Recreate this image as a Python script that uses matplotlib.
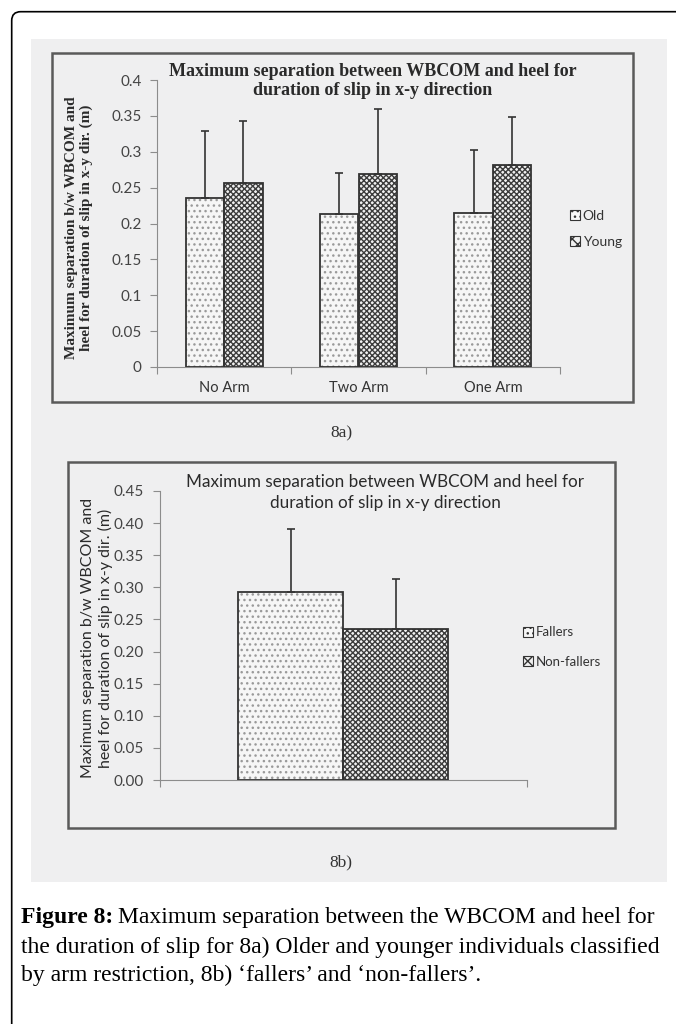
import matplotlib
matplotlib.use("Agg")
import matplotlib.pyplot as plt
from matplotlib.patches import Rectangle, FancyBboxPatch
import numpy as np

# ---- data ----
arm_groups = ["No Arm", "Two Arm", "One Arm"]
old_mean = [0.235, 0.213, 0.214]
old_sd = [0.094, 0.058, 0.088]
young_mean = [0.257, 0.269, 0.282]
young_sd = [0.086, 0.090, 0.066]

fall_labels = ["Fallers", "Non-fallers"]
fall_mean = [0.292, 0.235]
fall_sd = [0.099, 0.078]

ticks_a = [0, 0.05, 0.1, 0.15, 0.2, 0.25, 0.3, 0.35, 0.4]
ticks_b = [0, 0.05, 0.10, 0.15, 0.20, 0.25, 0.30, 0.35, 0.40, 0.45]

title = "Maximum separation between WBCOM and heel for\nduration of slip in x-y direction"
ylab = "Maximum separation b/w WBCOM and\nheel for duration of slip in x-y dir. (m)"

W, H = 676, 1024
plt.rcParams['hatch.linewidth'] = 1.0

fig = plt.figure(figsize=(W / 100, H / 100), dpi=100)
fig.patch.set_facecolor("white")


def fx(x):
    return x / W


def fy(y):
    return 1 - y / H


def rect(l, t, r, b):
    return [l / W, 1 - b / H, (r - l) / W, (b - t) / H]


# outer rounded frame and scanned grey area (kept behind the axes)
frame = FancyBboxPatch((0.117, -1.0), 8.0, 10.123 + 1.0, boxstyle="round,pad=0,rounding_size=0.09",
                       transform=fig.dpi_scale_trans, fill=False, ec="black", lw=1.2, zorder=-10)
fig.patches.append(frame)
fig.patches.append(Rectangle((fx(31), fy(882)), (667 - 31) / W, (882 - 39) / H,
                             transform=fig.transFigure, fc="#efeff0", ec="none", zorder=-9))
# chart boxes
for l, t, r, b in [(52, 53, 633, 402), (68, 462, 615, 828)]:
    fig.patches.append(Rectangle((fx(l), fy(b)), (r - l) / W, (b - t) / H,
                                 transform=fig.transFigure, fill=False, ec="#5a5a5a", lw=1.8,
                                 zorder=-8))

DOT = dict(fc="#f6f6f6", hatch="...", hatch_ec="#9a9a9a")
CROSS = dict(fc="#f0f0f0", hatch="xxxxxx", hatch_ec="#3c3c3c")


def hbar(ax, x, h, w, style):
    ax.bar(x, h, w, color=style["fc"], hatch=style["hatch"], edgecolor=style["hatch_ec"], lw=0, zorder=2)
    ax.bar(x, h, w, fill=False, edgecolor="#333333", lw=1.3, zorder=3)


def style_axes(ax, nb):
    for s in ["top", "right"]:
        ax.spines[s].set_visible(False)
    for s in ["left", "bottom"]:
        ax.spines[s].set_color("#8c8c8c")
        ax.spines[s].set_linewidth(0.8)
    ax.set_facecolor("none")
    ax.tick_params(axis="y", direction="out", length=5, color="#8c8c8c", labelcolor="#444444", pad=6)
    ax.set_xticks(np.arange(-0.5, nb, 1.0))
    ax.set_xticklabels([])
    ax.tick_params(axis="x", direction="out", length=5, color="#8c8c8c")


# ---------------- 8a ----------------
axa = fig.add_axes(rect(157, 80, 560, 367))
x = np.arange(len(arm_groups))
bw = 0.287
hbar(axa, x - bw / 2, old_mean, bw, DOT)
hbar(axa, x + bw / 2, young_mean, bw, CROSS)
axa.errorbar(x - bw / 2, old_mean, yerr=[np.zeros(3), old_sd], fmt="none", ecolor="#333333",
             elinewidth=1.2, capsize=3, capthick=1.2, zorder=4)
axa.errorbar(x + bw / 2, young_mean, yerr=[np.zeros(3), young_sd], fmt="none", ecolor="#333333",
             elinewidth=1.2, capsize=3, capthick=1.2, zorder=4)
axa.set_xlim(-0.5, 2.5)
axa.set_ylim(0, 0.4)
axa.set_yticks(ticks_a)
axa.set_yticklabels([f"{t:g}" for t in ticks_a], family="Lato", fontsize=11)
style_axes(axa, 3)
for i, g in enumerate(arm_groups):
    axa.text(i, -0.029, g, ha="center", va="center", family="Lato", fontsize=10.5, color="#333333",
             transform=axa.transData, clip_on=False)

fig.text(fx(373), fy(81), title, ha="center", va="center", family="Liberation Serif",
         fontweight="bold", fontsize=13, color="#2a2a2a", linespacing=1.15)
fig.text(fx(79), fy(228), ylab, ha="center", va="center", rotation=90, family="Liberation Serif",
         fontweight="bold", fontsize=11, color="#2a2a2a", linespacing=1.15, multialignment="center")

la = [Rectangle((0, 0), 1, 1, fc=DOT["fc"], hatch=DOT["hatch"], ec="#333333", lw=0.8),
      Rectangle((0, 0), 1, 1, fc=CROSS["fc"], hatch="xxx", ec="#333333", lw=0.8)]
fig.legend(la, ["Old", "Young"], loc="center left", bbox_to_anchor=(fx(557), fy(229)),
           frameon=False, handlelength=0.75, handleheight=0.75, handletextpad=0.2,
           labelspacing=1.0, prop={"family": "Lato", "size": 10}, labelcolor="#333333")

fig.text(fx(341), fy(433), "8a)", ha="center", va="center", family="Liberation Serif",
         fontsize=12.5, color="#333333")

# ---------------- 8b ----------------
axb = fig.add_axes(rect(159.5, 491, 527, 780))
bw2 = 0.286
hbar(axb, [-bw2 / 2], [fall_mean[0]], bw2, DOT)
hbar(axb, [bw2 / 2], [fall_mean[1]], bw2, CROSS)
axb.errorbar([-bw2 / 2, bw2 / 2], fall_mean, yerr=[np.zeros(2), fall_sd], fmt="none",
             ecolor="#333333", elinewidth=1.2, capsize=3, capthick=1.2, zorder=4)
axb.set_xlim(-0.5, 0.5)
axb.set_ylim(0, 0.45)
axb.set_yticks(ticks_b)
axb.set_yticklabels([f"{t:.2f}" for t in ticks_b], family="Lato", fontsize=11)
style_axes(axb, 1)

fig.text(fx(385), fy(492.5), title, ha="center", va="center", family="Lato",
         fontsize=12.3, color="#2a2a2a", linespacing=1.45)
fig.text(fx(97), fy(638), ylab, ha="center", va="center", rotation=90, family="Lato",
         fontsize=11.5, color="#2a2a2a", linespacing=1.2, multialignment="center")

lb = [Rectangle((0, 0), 1, 1, fc=DOT["fc"], hatch=DOT["hatch"], ec="#333333", lw=0.8),
      Rectangle((0, 0), 1, 1, fc=CROSS["fc"], hatch="xxx", ec="#333333", lw=0.8)]
fig.legend(lb, fall_labels, loc="center left", bbox_to_anchor=(fx(511), fy(647)),
           frameon=False, handlelength=0.75, handleheight=0.75, handletextpad=0.25,
           labelspacing=1.3, prop={"family": "Lato", "size": 9.5}, labelcolor="#333333")

fig.text(fx(341), fy(862), "8b)", ha="center", va="center", family="Liberation Serif",
         fontsize=12.5, color="#333333")

# ---------------- caption ----------------
cap_size = 17
renderer = fig.canvas.get_renderer()
t0 = fig.text(fx(21), fy(918), "Figure 8:", ha="left", va="center", family="Liberation Serif",
              fontweight="bold", fontsize=cap_size, color="black")
bb = t0.get_window_extent(renderer)
fig.text(bb.x1 / W + 0.007, fy(918), "Maximum separation between the WBCOM and heel for",
         ha="left", va="center", family="Liberation Serif", fontsize=cap_size, color="black")
fig.text(fx(21), fy(947), "the duration of slip for 8a) Older and younger individuals classified",
         ha="left", va="center", family="Liberation Serif", fontsize=cap_size, color="black")
fig.text(fx(21), fy(975), "by arm restriction, 8b) \u2018fallers\u2019 and \u2018non-fallers\u2019.",
         ha="left", va="center", family="Liberation Serif", fontsize=cap_size, color="black")

fig.savefig("out.png", dpi=100)
